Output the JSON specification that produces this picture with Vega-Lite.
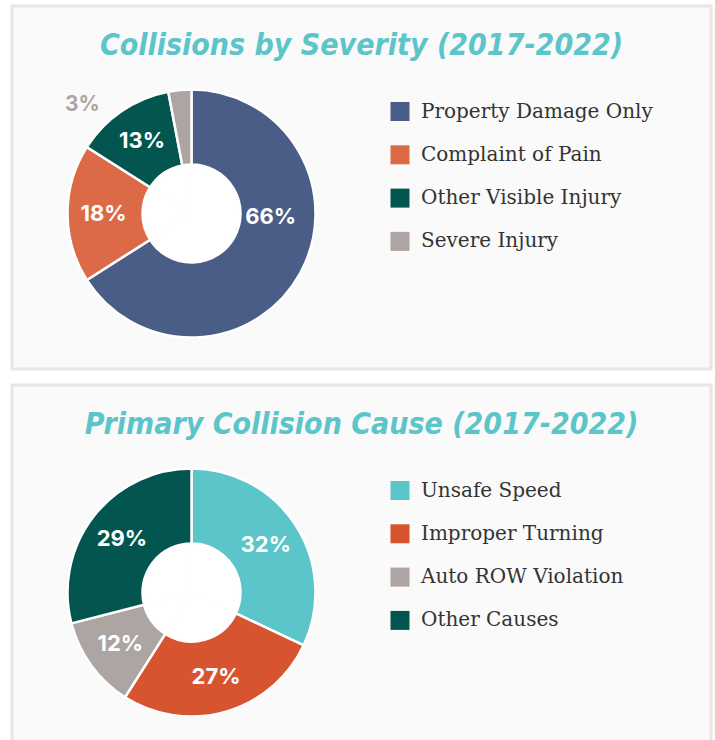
{
  "$schema": "https://vega.github.io/schema/vega-lite/v6.json",
  "background": "white",
  "padding": {"left": 10, "top": 4, "right": 0, "bottom": 0},
  "spacing": 16,
  "bounds": "flush",
  "resolve": {"scale": {"color": "independent", "theta": "independent"}, "legend": {"color": "independent"}},
  "config": {
    "view": {"fill": "#fafafa", "stroke": "#e6e6e6", "strokeWidth": 3},
    "legend": {
      "orient": "none", "legendX": 378, "legendY": 95.5, "padding": 0, "title": null,
      "symbolType": "square", "symbolSize": 361, "symbolStrokeWidth": 0, "symbolOpacity": 1,
      "labelFont": "DejaVu Serif", "labelFontSize": 20, "labelColor": "#333333", "labelOffset": 11,
      "rowPadding": 23.3, "labelLimit": 400
    },
    "title": {"anchor": "middle", "frame": "group", "font": "DejaVu Sans Condensed, DejaVu Sans", "fontSize": 30, "fontStyle": "italic", "fontWeight": "bold", "color": "#5bc5c9", "baseline": "alphabetic"}
  },
  "vconcat": [
    {
      "width": 699, "height": 363,
      "view": {"fill": "#fafafa", "stroke": "#e6e6e6", "strokeWidth": 3},
      "title": {"text": "Collisions by Severity (2017-2022)", "offset": -54.5},
      "data": {"values": [
        {"name": "Property Damage Only", "value": 66, "order": 1, "label": "66%"},
        {"name": "Complaint of Pain", "value": 18, "order": 2, "label": "18%"},
        {"name": "Other Visible Injury", "value": 13, "order": 3, "label": "13%"},
        {"name": "Severe Injury", "value": 3, "order": 4, "label": "3%"}
      ]},
      "encoding": {
        "theta": {"field": "value", "type": "quantitative", "stack": true},
        "order": {"field": "order", "type": "quantitative"}
      },
      "layer": [
        {
          "mark": {"type": "arc", "x": 179.5, "y": 207.5, "innerRadius": 49, "outerRadius": 124, "stroke": "white", "strokeWidth": 2.5},
          "encoding": {
            "color": {"field": "name", "type": "nominal",
              "scale": {"domain": ["Property Damage Only", "Complaint of Pain", "Other Visible Injury", "Severe Injury"], "range": ["#4a5d87", "#dd6a47", "#03564f", "#aca5a2"]},
              "sort": null}
          }
        },
        {
          "mark": {"type": "arc", "x": 179.5, "y": 207.5, "innerRadius": 0, "outerRadius": 48, "fill": "white", "strokeWidth": 0}
        },
        {
          "mark": {"type": "text", "x": 179.5, "y": 207.5, "radius": 88, "font": "Inter", "fontWeight": "bold", "fontSize": 22, "fill": "white", "align": "center", "baseline": "middle"},
          "encoding": {
            "text": {"condition": {"test": "datum.name === 'Complaint of Pain' || datum.name === 'Other Visible Injury'", "field": "label"}, "value": ""}
          }
        },
        {
          "mark": {"type": "text", "x": 179.5, "y": 207.5, "radius": 88, "dx": 2, "dy": -39, "font": "Inter", "fontWeight": "bold", "fontSize": 22, "fill": "white", "align": "center", "baseline": "middle"},
          "encoding": {
            "text": {"condition": {"test": "datum.name === 'Property Damage Only'", "field": "label"}, "value": ""}
          }
        },
        {
          "mark": {"type": "text", "x": 179.5, "y": 207.5, "radius": 77, "dx": -101.75, "dy": -32.3, "font": "Inter", "fontWeight": "bold", "fontSize": 21, "fill": "#aca5a2", "align": "center", "baseline": "middle"},
          "encoding": {
            "text": {"condition": {"test": "datum.name === 'Severe Injury'", "field": "label"}, "value": ""}
          }
        }
      ]
    },
    {
      "width": 699, "height": 363,
      "view": {"fill": "#fafafa", "stroke": "#e6e6e6", "strokeWidth": 3},
      "title": {"text": "Primary Collision Cause (2017-2022)", "offset": -54.5},
      "data": {"values": [
        {"name": "Unsafe Speed", "value": 32, "order": 1, "label": "32%"},
        {"name": "Improper Turning", "value": 27, "order": 2, "label": "27%"},
        {"name": "Auto ROW Violation", "value": 12, "order": 3, "label": "12%"},
        {"name": "Other Causes", "value": 29, "order": 4, "label": "29%"}
      ]},
      "encoding": {
        "theta": {"field": "value", "type": "quantitative", "stack": true},
        "order": {"field": "order", "type": "quantitative"}
      },
      "layer": [
        {
          "mark": {"type": "arc", "x": 179.5, "y": 207.5, "innerRadius": 49, "outerRadius": 124, "stroke": "white", "strokeWidth": 2.5},
          "encoding": {
            "color": {"field": "name", "type": "nominal",
              "scale": {"domain": ["Unsafe Speed", "Improper Turning", "Auto ROW Violation", "Other Causes"], "range": ["#5bc5c9", "#d65530", "#aca5a2", "#03564f"]},
              "sort": null}
          }
        },
        {
          "mark": {"type": "arc", "x": 179.5, "y": 207.5, "innerRadius": 0, "outerRadius": 48, "fill": "white", "strokeWidth": 0}
        },
        {
          "mark": {"type": "text", "x": 179.5, "y": 207.5, "radius": 88, "font": "Inter", "fontWeight": "bold", "fontSize": 22, "fill": "white", "align": "center", "baseline": "middle"},
          "encoding": {
            "text": {"field": "label"}
          }
        }
      ]
    }
  ]
}
